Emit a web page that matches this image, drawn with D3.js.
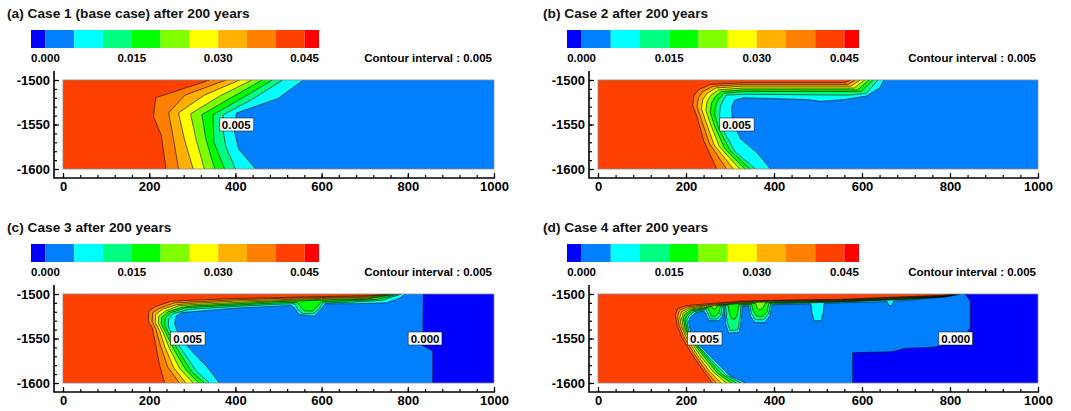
<!DOCTYPE html>
<html>
<head>
<meta charset="utf-8">
<script src="https://cdn.jsdelivr.net/npm/d3@7"></script>
<style>
  body{margin:0;background:#fff;}
  svg{display:block;font-family:"Liberation Sans",Arial,sans-serif;font-weight:bold;}
</style>
</head>
<body>
<svg id="fig" width="1071" height="411"></svg>
<script>
// ---- data ----
var titles=["(a) Case 1 (base case) after 200 years","(b) Case 2 after 200 years",
            "(c) Case 3 after 200 years","(d) Case 4 after 200 years"];
var levels=[0.005,0.010,0.015,0.020,0.025,0.030,0.035,0.040];
// band colours: <0, 0-0.005, ... , 0.040-0.045, >0.045
var bandColors=["#0000ff","#0080ff","#00ffff","#00ff80","#00ff00","#80ff00","#ffff00","#ffb000","#ff8000","#ff4000","#ff0000"];
var barTicks=[0,0.015,0.030,0.045];
var interval=0.005;
var xTickLabels=[0,200,400,600,800,1000];
var xMinor=d3.range(0,1001,40);
var yTickLabels=[-1500,-1550,-1600];
var yMinor=d3.range(-1600,-1499,10);

// contour fronts [x, elevation], one per level (0.005 .. 0.040), top edge -> bottom edge
var case1Fronts=[
  [[558,-1500],[498,-1521],[403,-1537],[396,-1555],[408,-1578],[447,-1600]],
  [[510,-1500],[438,-1522],[372,-1539],[370,-1553],[378,-1575],[400,-1600]],
  [[486,-1500],[413,-1521],[348,-1539],[350,-1570],[375,-1600]],
  [[462,-1500],[390,-1520],[322,-1539],[332,-1567],[352,-1600]],
  [[438,-1500],[364,-1518],[296,-1538],[309,-1567],[328,-1600]],
  [[410,-1500],[328,-1517],[268,-1537],[282,-1567],[302,-1600]],
  [[378,-1500],[283,-1517],[245,-1537],[256,-1565],[268,-1600]],
  [[340,-1500],[215,-1520],[210,-1541],[228,-1562],[239,-1600]]
];
var case2Fronts=[
  [[650,-1500],[640,-1509],[610,-1518],[560,-1522],[505,-1524],[475,-1522],[330,-1520],[310,-1523],[304,-1530],[305,-1547],[324,-1566],[362,-1582],[392,-1600]],
  [[636,-1500],[610,-1515],[570,-1517],[330,-1516],[292,-1517],[284,-1523],[278,-1530],[276,-1540],[284,-1556],[312,-1581],[358,-1600]],
  [[626,-1500],[598,-1513],[330,-1513],[286,-1515],[275,-1521],[268,-1528],[265,-1538],[274,-1554],[300,-1579],[346,-1600]],
  [[616,-1500],[590,-1511],[330,-1511],[280,-1513],[266,-1519],[258,-1526],[255,-1536],[265,-1552],[288,-1577],[334,-1600]],
  [[606,-1500],[582,-1509],[330,-1509],[274,-1511],[257,-1517],[248,-1524],[245,-1534],[256,-1550],[276,-1575],[322,-1600]],
  [[596,-1500],[575,-1507],[330,-1507],[268,-1509],[248,-1515],[238,-1522],[235,-1532],[246,-1548],[264,-1573],[308,-1600]],
  [[585,-1500],[568,-1505],[330,-1505],[262,-1507],[238,-1513],[228,-1520],[225,-1530],[236,-1546],[253,-1571],[292,-1600]],
  [[574,-1500],[562,-1503],[330,-1503],[256,-1505],[228,-1511],[218,-1518],[215,-1528],[226,-1543],[241,-1569],[270,-1600]]
];
var case3Fronts=[
  [[794,-1500],[780,-1505],[750,-1510],[676,-1511],[608,-1511],[598,-1517],[583,-1525],[548,-1523],[536,-1515],[528,-1513],[400,-1516],[300,-1520],[275,-1521],[262,-1525],[259,-1534],[271,-1549],[306,-1568],[336,-1583],[363,-1600]],
  [[786,-1500],[740,-1507],[676,-1509],[603,-1510],[595,-1516],[582,-1522],[555,-1522],[544,-1517],[538,-1511],[500,-1511.5],[400,-1514],[300,-1517],[288,-1518],[256,-1522],[245,-1528],[244,-1536],[256,-1549],[282,-1567],[310,-1587],[340,-1600]],
  [[780,-1500],[730,-1506],[676,-1507.5],[600,-1508.5],[594,-1512],[580,-1519],[560,-1519],[549,-1513],[543,-1509.5],[500,-1510],[400,-1512.5],[300,-1515],[282,-1516],[250,-1521],[237,-1527],[236,-1535],[248,-1547],[268,-1564],[298,-1587],[328,-1600]],
  [[775,-1500],[700,-1506],[600,-1507],[500,-1508.5],[400,-1511],[300,-1513.5],[276,-1515],[244,-1520],[229,-1526],[228,-1534],[240,-1545],[257,-1562],[285,-1585],[315,-1600]],
  [[770,-1500],[700,-1505],[600,-1506],[500,-1507.5],[400,-1509.5],[300,-1512],[270,-1513],[238,-1519],[222,-1525],[221,-1533],[232,-1543],[246,-1560],[271,-1584],[302,-1600]],
  [[764,-1500],[700,-1504],[600,-1505],[500,-1506.5],[400,-1508],[300,-1510.5],[264,-1512],[231,-1517],[215,-1523],[214,-1532],[224,-1541],[236,-1559],[257,-1583],[285,-1600]],
  [[758,-1500],[700,-1503],[600,-1504],[500,-1505],[400,-1506.5],[300,-1509],[258,-1510],[224,-1516],[208,-1521],[207,-1531],[216,-1540],[226,-1558],[243,-1582],[270,-1600]],
  [[752,-1500],[700,-1502],[600,-1503],[500,-1504],[400,-1505],[300,-1507],[252,-1508],[215,-1514],[199,-1519],[198,-1531],[207,-1538],[215,-1557],[224,-1580],[236,-1600]]
];
var case4Fronts=[
  [[824,-1500],[795,-1503],[702,-1507],[672,-1508],[668,-1513],[661,-1513],[657,-1508.5],[551,-1510],[514,-1510.5],[512,-1521],[507,-1530],[491,-1530],[486,-1521],[484,-1511],[400,-1512],[395,-1513],[391,-1524],[379,-1532],[356,-1532],[346,-1524],[342,-1513.5],[328,-1514],[326,-1529],[321,-1543],[297,-1544],[290,-1533],[287,-1515],[286,-1515.5],[283,-1525],[273,-1530],[252,-1530],[244,-1521],[240,-1519],[222,-1521],[210,-1526],[206,-1531],[211,-1543],[230,-1557],[265,-1575],[300,-1592],[336,-1600]],
  [[820,-1500],[793,-1503],[702,-1506],[551,-1509],[400,-1511],[392,-1512],[388,-1522],[377,-1529],[358,-1529],[349,-1522],[345,-1512.5],[325,-1512.7],[323,-1527],[318,-1540],[300,-1541],[293,-1530],[290,-1514],[282,-1514.5],[279,-1524],[270,-1528],[255,-1528],[248,-1520],[245,-1517.5],[218,-1520],[206,-1525],[202,-1530],[206,-1541],[222,-1555],[255,-1573],[291,-1591],[325,-1600]],
  [[818,-1500],[791,-1502.8],[702,-1505.5],[551,-1508.5],[400,-1510],[388,-1511],[384,-1520],[375,-1525],[361,-1525],[353,-1519],[349,-1511.5],[320,-1512],[317,-1522],[312,-1528],[304,-1528],[298,-1520],[296,-1513],[278,-1513.5],[275,-1521],[267,-1525],[258,-1525],[252,-1518],[249,-1516],[215,-1519],[202,-1524],[198,-1529],[202,-1540],[217,-1553],[247,-1571],[281,-1590],[314,-1600]],
  [[817,-1500],[789,-1502.6],[702,-1505],[551,-1508],[400,-1509.2],[380,-1510],[376,-1515],[368,-1518],[362,-1516],[358,-1510.5],[324,-1510.7],[272,-1512.5],[268,-1516],[262,-1517],[258,-1514],[249,-1515],[212,-1518],[198,-1522.5],[194,-1528],[198,-1539],[212,-1552],[240,-1570],[272,-1589],[303,-1600]],
  [[816,-1500],[787,-1502.4],[702,-1504.5],[551,-1507.5],[400,-1508.6],[324,-1510],[249,-1514],[209,-1517],[194,-1521],[190,-1527],[194,-1538],[207,-1551],[232,-1569],[263,-1588],[292,-1600]],
  [[815,-1500],[785,-1502.2],[702,-1504],[551,-1507],[400,-1508],[324,-1509.4],[249,-1513],[206,-1516],[190,-1520],[186,-1526],[190,-1537],[202,-1550],[225,-1568],[254,-1587],[280,-1600]],
  [[814,-1500],[783,-1502],[702,-1503.5],[551,-1506.5],[400,-1507.5],[324,-1508.7],[249,-1512],[203,-1514.5],[185,-1518.5],[181,-1525],[185,-1536],[196,-1549],[218,-1567],[245,-1586],[268,-1600]],
  [[812,-1500],[780,-1501.5],[702,-1503],[551,-1506],[400,-1507],[324,-1508],[249,-1511],[200,-1513],[180,-1517],[176,-1524],[180,-1535],[190,-1548],[210,-1565],[235,-1583],[260,-1600]]
];
// edge of the 0.000 (dark blue) zone, top edge -> bottom edge
var case3Zero=[[836,-1500],[835,-1558],[858,-1564],[858,-1600]];
var case4Zero=[[834,-1500],[846,-1508],[846,-1538],[838,-1545],[805,-1556],[760,-1560],[700,-1561],[668,-1565],[579,-1566],[579,-1600]];
// contour labels [x, elevation, text]
var case1Tags=[[402,-1550,"0.005"]];
var case2Tags=[[315,-1550,"0.005"]];
var case3Tags=[[289,-1550,"0.005"],[840,-1550,"0.000"]];
var case4Tags=[[242,-1550,"0.005"],[813,-1550,"0.000"]];

// ---- layout ----
var cols=[{plotL:63,plotR:494,cbL:31,cbR:319,titleX:7},
          {plotL:598,plotR:1038,cbL:567,cbR:859,titleX:543}];
var rowOff=[0,214];
var panels=[
  {title:titles[0],fronts:case1Fronts,zero:null,tags:case1Tags,col:0,row:0},
  {title:titles[1],fronts:case2Fronts,zero:null,tags:case2Tags,col:1,row:0},
  {title:titles[2],fronts:case3Fronts,zero:case3Zero,tags:case3Tags,col:0,row:1},
  {title:titles[3],fronts:case4Fronts,zero:case4Zero,tags:case4Tags,col:1,row:1}
];

var svg=d3.select("#fig");
panels.forEach(function(p,i){drawPanel(p,i);});

function drawPanel(p,i){
  var c=cols[p.col], dy=rowOff[p.row];
  var top=80+dy, bot=169+dy;
  var x=d3.scaleLinear().domain([0,1000]).range([c.plotL,c.plotR]);
  var y=d3.scaleLinear().domain([-1600,-1500]).range([bot,top]);
  var xd=x.domain(), yd=y.domain();
  var g=svg.append("g");

  g.append("text").attr("x",c.titleX).attr("y",18+dy).attr("font-size",13.7).attr("fill","#111").text(p.title);

  // colour bar
  var cb=d3.scaleLinear().domain([-interval/2,0.045+interval/2]).range([c.cbL,c.cbR]);
  bandColors.forEach(function(col,k){
    var lo=Math.max(cb.domain()[0],(k-1)*interval), hi=Math.min(cb.domain()[1],k*interval);
    g.append("rect").attr("x",cb(lo)).attr("y",30+dy).attr("width",cb(hi)-cb(lo)).attr("height",18).attr("fill",col);
  });
  barTicks.forEach(function(t){
    g.append("text").attr("x",cb(t)).attr("y",62+dy).attr("text-anchor","middle").attr("font-size",11.5).text(t.toFixed(3));
  });
  g.append("text").attr("x",c.plotR-2).attr("y",62+dy).attr("text-anchor","end").attr("font-size",11.5)
    .text("Contour interval : "+interval.toFixed(3));

  // filled contours
  var clipId="clip"+i;
  svg.append("clipPath").attr("id",clipId).append("rect")
    .attr("x",c.plotL).attr("y",top).attr("width",c.plotR-c.plotL).attr("height",bot-top);
  var pg=g.append("g").attr("clip-path","url(#"+clipId+")");
  var line=d3.line().x(function(d){return x(d[0]);}).y(function(d){return y(d[1]);});
  pg.append("rect").attr("x",c.plotL).attr("y",top).attr("width",c.plotR-c.plotL).attr("height",bot-top).attr("fill",bandColors[1]);
  p.fronts.forEach(function(f,k){
    pg.append("path").attr("d",line(f.concat([[xd[0],yd[0]],[xd[0],yd[1]]]))+"Z").attr("fill",bandColors[k+2]);
  });
  if(p.zero){
    pg.append("path").attr("d",line(p.zero.concat([[xd[1],yd[0]],[xd[1],yd[1]]]))+"Z").attr("fill",bandColors[0]);
  }
  var lines=p.zero?p.fronts.concat([p.zero]):p.fronts;
  lines.forEach(function(f){
    pg.append("path").attr("d",line(f)).attr("fill","none").attr("stroke","#000").attr("stroke-width",0.65).attr("stroke-opacity",0.9);
  });
  g.append("rect").attr("x",c.plotL).attr("y",top).attr("width",c.plotR-c.plotL).attr("height",bot-top)
    .attr("fill","none").attr("stroke","#888").attr("stroke-width",0.8);

  // axes (Tecplot style: offset spines, inward ticks); plain hyphen for negatives
  var fmt=function(d){return String(d);};
  var sx=c.plotL-9, sy=bot+9;
  var xa=g.append("g").attr("transform","translate(0,"+sy+")")
    .call(d3.axisBottom(x).tickValues(xTickLabels).tickSize(-5).tickSizeOuter(0).tickPadding(4).tickFormat(fmt));
  var xm=g.append("g").attr("transform","translate(0,"+sy+")")
    .call(d3.axisBottom(x).tickValues(xMinor).tickSize(-3).tickSizeOuter(0).tickFormat(""));
  var ya=g.append("g").attr("transform","translate("+sx+",0)")
    .call(d3.axisLeft(y).tickValues(yTickLabels).tickSize(-5).tickSizeOuter(0).tickPadding(4).tickFormat(fmt));
  var ym=g.append("g").attr("transform","translate("+sx+",0)")
    .call(d3.axisLeft(y).tickValues(yMinor).tickSize(-3).tickSizeOuter(0).tickFormat(""));
  [xa,xm,ya,ym].forEach(function(a){
    a.select(".domain").remove();
    a.attr("font-family",null).attr("font-size",13);
    a.selectAll("line").attr("stroke","#000").attr("stroke-width",1.2);
    a.selectAll("text").attr("fill","#000");
  });
  g.append("path").attr("d","M"+sx+","+(top-9)+"V"+sy+"H"+(c.plotR+1))
    .attr("fill","none").attr("stroke","#000").attr("stroke-width",1.6);

  // contour value tags
  p.tags.forEach(function(t){
    var tg=g.append("g").attr("transform","translate("+x(t[0])+","+y(t[1])+")");
    var r=tg.append("rect");
    var tx=tg.append("text").attr("text-anchor","middle").attr("y",4.2).attr("font-size",11.5).text(t[2]);
    var bb=tx.node().getBBox();
    r.attr("x",bb.x-2.5).attr("y",-6.5).attr("width",bb.width+5).attr("height",13)
      .attr("fill","#fff").attr("stroke","#222").attr("stroke-width",0.6);
  });
}
</script>
</body>
</html>
